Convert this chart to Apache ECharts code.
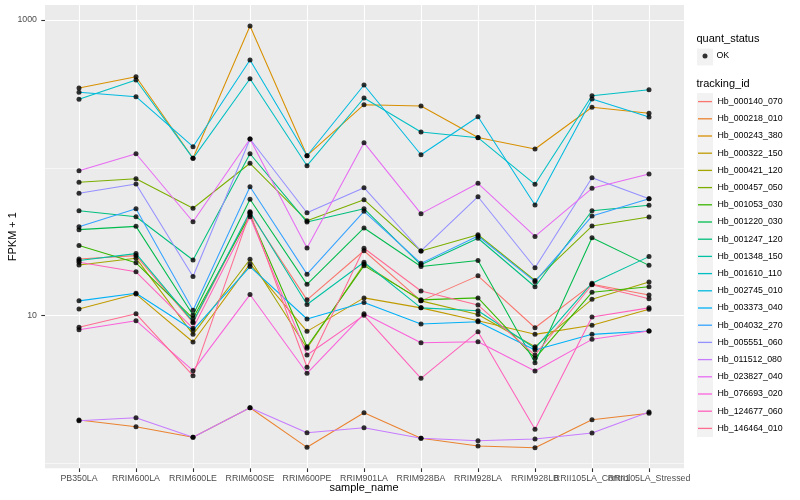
<!DOCTYPE html>
<html><head><meta charset="utf-8">
<script src="https://cdn.jsdelivr.net/npm/echarts@6/dist/echarts.min.js"></script>
<style>html,body{margin:0;padding:0;background:#fff}#c{width:800px;height:500px}</style>
</head><body><div id="c"></div>
<script>
// ---- data (FPKM + 1) ----
const categories = ['PB350LA','RRIM600LA','RRIM600LE','RRIM600SE','RRIM600PE','RRIM901LA','RRIM928BA','RRIM928LA','RRIM928LB','RRII105LA_Control','RRII105LA_Stressed'];
const trackingIds = ['Hb_000140_070','Hb_000218_010','Hb_000243_380','Hb_000322_150','Hb_000421_120','Hb_000457_050','Hb_001053_030','Hb_001220_030','Hb_001247_120','Hb_001348_150','Hb_001610_110','Hb_002745_010','Hb_003373_040','Hb_004032_270','Hb_005551_060','Hb_011512_080','Hb_023827_040','Hb_076693_020','Hb_124677_060','Hb_146464_010'];
const Hb_000140_070 = [24.2, 25.5, 8.97, 49.3, 12.8, 27.5, 12.6, 18.6, 8.29, 16.3, 13.8];
const Hb_000218_010 = [1.97, 1.775, 1.505, 2.386, 1.288, 2.207, 1.482, 1.314, 1.28, 1.98, 2.187];
const Hb_000243_380 = [346.7, 413.6, 116.0, 910.9, 120.8, 267.4, 262.0, 160.5, 134.2, 256.8, 233.8];
const Hb_000322_150 = [11.1, 14.0, 6.64, 22.4, 7.84, 13.2, 11.3, 9.25, 7.48, 8.61, 11.05];
const Hb_000421_120 = [22.0, 24.5, 7.48, 24.1, 6.02, 22.4, 12.6, 10.2, 6.17, 12.9, 16.9];
const Hb_000457_050 = [79.9, 84.5, 53.3, 107.4, 43.9, 60.9, 27.4, 35.3, 17.3, 40.4, 46.5];
const Hb_001053_030 = [29.9, 22.8, 9.60, 48.0, 6.17, 21.8, 12.8, 13.2, 5.15, 14.4, 15.7];
const Hb_001220_030 = [38.2, 40.2, 10.1, 61.3, 16.3, 39.2, 21.5, 23.6, 4.81, 33.7, 21.9];
const Hb_001247_120 = [51.3, 46.7, 23.8, 124.6, 43.0, 52.9, 22.1, 33.4, 15.7, 51.3, 55.8];
const Hb_001348_150 = [23.6, 26.3, 9.11, 50.5, 11.9, 23.0, 11.3, 10.8, 6.02, 16.6, 25.1];
const Hb_001610_110 = [290.8, 392.8, 116.0, 400.9, 103.4, 296.8, 174.8, 159.9, 77.4, 307.6, 337.8];
const Hb_002745_010 = [324.3, 302.8, 139.0, 536.2, 120.8, 363.5, 122.7, 221.8, 56.1, 292.2, 220.7];
const Hb_003373_040 = [12.6, 14.2, 8.00, 21.5, 9.50, 12.3, 8.79, 9.11, 5.86, 7.48, 7.88];
const Hb_004032_270 = [40.0, 52.9, 10.9, 74.6, 19.1, 50.8, 22.6, 34.6, 17.0, 47.2, 61.8];
const Hb_005551_060 = [67.3, 77.8, 18.4, 156.7, 49.7, 73.4, 27.4, 63.8, 21.1, 85.8, 61.8];
const Hb_011512_080 = [1.95, 2.042, 1.505, 2.386, 1.617, 1.748, 1.482, 1.428, 1.466, 1.609, 2.232];
const Hb_023827_040 = [95.7, 124.6, 43.2, 156.7, 28.7, 148.0, 49.0, 78.6, 34.4, 72.7, 90.9];
const Hb_076693_020 = [8.04, 9.25, 4.25, 13.9, 4.08, 10.3, 6.57, 6.67, 4.23, 6.92, 7.88];
const Hb_124677_060 = [23.0, 19.8, 8.22, 46.7, 5.42, 10.06, 3.77, 7.80, 1.705, 9.80, 11.3];
const Hb_146464_010 = [8.35, 10.3, 3.93, 49.8, 4.48, 28.6, 14.7, 11.8, 5.42, 16.2, 13.0];
const quantStatus = ['OK'];
const yTickLabels = [10, 1000];
const yMinorBreaks = [1, 100];

// ---- styles ----
const palette = ['#F8766D','#EA8331','#D89000','#C09B00','#A3A500','#7CAE00','#39B600','#00BB4E','#00BF7D','#00C1A3','#00BFC4','#00BAE0','#00B0F6','#35A2FF','#9590FF','#C77CFF','#E76BF3','#FA62DB','#FF62BC','#FF6C91'];
const FONT = 'Liberation Sans, Arial, Helvetica, sans-serif';
// legend key: thin horizontal line inside a 16 x 17.2 box
const KEY_ICON = 'path://M0,0L0,0M0,17.2L0,17.2M1,7.95L15,7.95L15,9.25L1,9.25Z';

const seriesValues = [Hb_000140_070,Hb_000218_010,Hb_000243_380,Hb_000322_150,Hb_000421_120,Hb_000457_050,Hb_001053_030,Hb_001220_030,Hb_001247_120,Hb_001348_150,Hb_001610_110,Hb_002745_010,Hb_003373_040,Hb_004032_270,Hb_005551_060,Hb_011512_080,Hb_023827_040,Hb_076693_020,Hb_124677_060,Hb_146464_010];

const Y_MIN = 0.929, Y_MAX = 1263;

const lineSeries = trackingIds.map((id, k) => ({
  name: id, type: 'line', xAxisIndex: 1, yAxisIndex: 1,
  data: seriesValues[k], symbol: 'none', showSymbol: false,
  lineStyle: { width: 1.05, color: palette[k] }, itemStyle: { color: palette[k] },
  z: 2, silent: true, animation: false
}));
const points = [];
seriesValues.forEach(arr => arr.forEach((v, i) => points.push([i, v])));
const pointSeries = {
  name: quantStatus[0], type: 'scatter', xAxisIndex: 1, yAxisIndex: 1,
  data: points, symbol: 'circle', symbolSize: 5,
  itemStyle: { color: '#000' }, z: 3, silent: true, animation: false
};
const gridLineSeries = {
  name: '_grid', type: 'line', xAxisIndex: 0, yAxisIndex: 0, data: [], silent: true, z: 1,
  markLine: {
    silent: true, symbol: ['none', 'none'], label: { show: false }, z: 1, animation: false,
    lineStyle: { color: '#FFFFFF', type: 'solid', width: 1.1 },
    emphasis: { disabled: true },
    data: yMinorBreaks.map(v => ({ yAxis: v, lineStyle: { width: 0.55, color: '#FFFFFF', type: 'solid' } }))
      .concat(yTickLabels.map(v => ({ yAxis: v, lineStyle: { width: 1.1, color: '#FFFFFF', type: 'solid' } })))
  }
};

const chart = echarts.init(document.getElementById('c'));
chart.setOption({
  animation: false,
  backgroundColor: '#FFFFFF',
  title: [
    { text: 'quant_status', left: 696.5, top: 33.5, padding: 0, textStyle: { fontFamily: FONT, fontSize: 11, fontWeight: 'normal', color: '#000' } },
    { text: 'tracking_id', left: 696.5, top: 78, padding: 0, textStyle: { fontFamily: FONT, fontSize: 11, fontWeight: 'normal', color: '#000' } }
  ],
  graphic: [
    { type: 'rect', left: 697, top: 48.5, shape: { width: 16, height: 17 }, style: { fill: '#F2F2F2' }, silent: true, z: 0 },
    { type: 'rect', left: 697, top: 93, shape: { width: 16, height: 344 }, style: { fill: '#F2F2F2' }, silent: true, z: 0 }
  ],
  legend: [
    { data: quantStatus, orient: 'vertical', left: 702.5, top: 51.5, padding: 0, itemWidth: 5, itemHeight: 5,
      icon: 'circle', itemStyle: { color: '#000' }, selectedMode: false,
      textStyle: { fontFamily: FONT, fontSize: 8.8, color: '#000', padding: [0, 0, 0, 4] } },
    { data: trackingIds, orient: 'vertical', left: 697, top: 93, padding: 0, itemGap: 0, itemWidth: 16, itemHeight: 17.2,
      icon: KEY_ICON, selectedMode: false,
      textStyle: { fontFamily: FONT, fontSize: 8.8, color: '#000' } }
  ],
  grid: [
    { left: 45, right: 116, top: 5, bottom: 31.7, show: true, backgroundColor: '#EBEBEB', borderWidth: 0, outerBoundsMode: 'none' },
    { left: 79, right: 151, top: 5, bottom: 31.7, show: false, outerBoundsMode: 'none' }
  ],
  xAxis: [
    { gridIndex: 0, type: 'value', min: 0, max: 1, show: false },
    { gridIndex: 1, type: 'category', data: categories, boundaryGap: false,
      axisLine: { show: false },
      axisTick: { show: true, interval: 0, length: 3.7, lineStyle: { color: '#333333', width: 1.1 } },
      axisLabel: { interval: 0, hideOverlap: false, fontFamily: FONT, fontSize: 8.8, color: '#4D4D4D', margin: 5.5 },
      splitLine: { show: true, interval: 0, lineStyle: { color: '#FFFFFF', width: 1.1 } },
      name: 'sample_name', nameLocation: 'middle', nameGap: 14, nameMoveOverlap: false,
      nameTextStyle: { fontFamily: FONT, fontSize: 11, color: '#000', verticalAlign: 'top' } }
  ],
  yAxis: [
    { gridIndex: 0, type: 'log', logBase: 10, min: Y_MIN, max: Y_MAX,
      axisLine: { show: false }, splitLine: { show: false }, minorSplitLine: { show: false },
      axisTick: { show: true, customValues: yTickLabels, length: 3.7, lineStyle: { color: '#333333', width: 1.1 } },
      axisLabel: { customValues: yTickLabels, formatter: v => String(v), fontFamily: FONT, fontSize: 8.8, color: '#4D4D4D', margin: 8 },
      name: 'FPKM + 1', nameLocation: 'middle', nameGap: 27, nameMoveOverlap: false,
      nameTextStyle: { fontFamily: FONT, fontSize: 11, color: '#000' } },
    { gridIndex: 1, type: 'log', logBase: 10, min: Y_MIN, max: Y_MAX, show: false,
      splitLine: { show: false } }
  ],
  series: [gridLineSeries].concat(lineSeries, [pointSeries])
});
</script>
</body></html>
